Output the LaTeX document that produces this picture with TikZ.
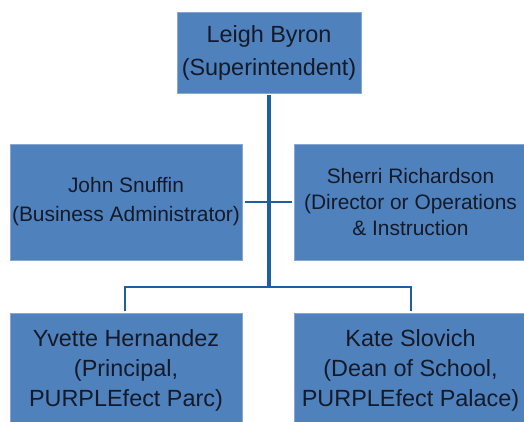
\documentclass[tikz,border=0pt]{standalone}
\usepackage{fontspec}
\setmainfont{Liberation Sans}
\definecolor{boxblue}{HTML}{4F81BD}
\definecolor{boxedge}{HTML}{86A7D3}
\definecolor{linkblue}{HTML}{1F5FA0}
\definecolor{txt}{HTML}{151A28}
\begin{document}
\begin{tikzpicture}[x=1bp,y=-1bp,
  orgbox/.style={rectangle, fill=boxblue, draw=boxedge, line width=0.5bp,
    text=txt, align=center, inner sep=0pt},
  bigtext/.style={font=\fontsize{23.5}{33.7}\selectfont},
  midtextA/.style={font=\fontsize{21}{29}\selectfont},
  midtextB/.style={font=\fontsize{21}{26.5}\selectfont},
  lowtext/.style={font=\fontsize{23.5}{30}\selectfont},
  trunk/.style={draw=linkblue, line width=3.2bp},
  branch/.style={draw=linkblue, line width=2bp},
  cross/.style={draw=linkblue, line width=1.6bp}]
\useasboundingbox (0,0) rectangle (524,421);
\fill[white] (0,0) rectangle (524,421);
\node[orgbox, bigtext, minimum width=184bp, minimum height=81bp] (top) at (269,53)
  {Leigh Byron\\(Superintendent)};
\node[orgbox, midtextA, minimum width=232bp, minimum height=116bp] (left) at (126,202)
  {John Snuffin\\(Business Administrator)};
\node[orgbox, midtextB, minimum width=233bp, minimum height=116bp] (right) at (410.5,202)
  {Sherri Richardson\\(Director or Operations\\\& Instruction};
\node[orgbox, lowtext, minimum width=232bp, minimum height=115bp] (bl) at (126,370.5)
  {Yvette Hernandez\\(Principal,\\PURPLEfect Parc)};
\node[orgbox, lowtext, minimum width=233bp, minimum height=115bp] (br) at (410.5,370.5)
  {Kate Slovich\\(Dean of School,\\PURPLEfect Palace)};
\coordinate (split) at (269,287);
\draw[cross, shorten <=3bp, shorten >=2bp] (left.east) -- (right.west);
\draw[trunk] ([yshift=-1bp]top.south) -- (split);
\draw[branch, shorten >=2bp] (split) -| ([xshift=-1bp]bl.north);
\draw[branch, shorten >=2bp] (split) -| (br.north);
\end{tikzpicture}
\end{document}
